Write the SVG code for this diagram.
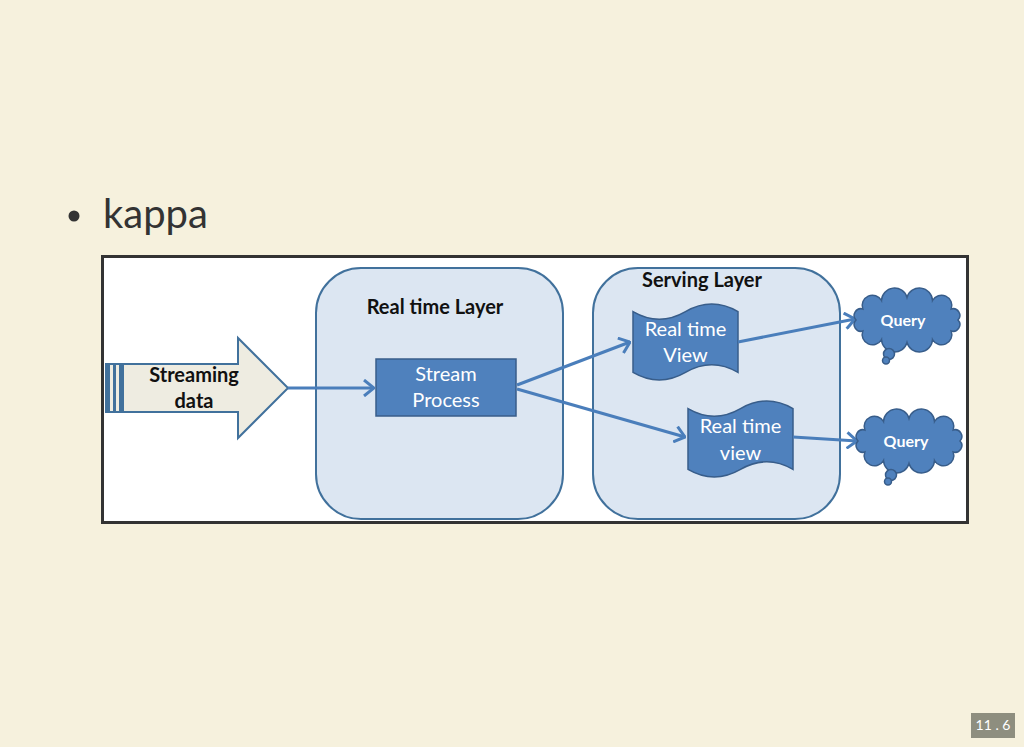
<svg xmlns="http://www.w3.org/2000/svg" width="1024" height="747" viewBox="0 0 1024 747">
<style>
.t{font-family:Lato,"Open Sans","Liberation Sans",sans-serif;text-anchor:middle}
.b{font-weight:bold;fill:#111}
.w{fill:#fff}
.layer{fill:#dce6f2;stroke:#41719c;stroke-width:2}
.shape{fill:#4f81bd;stroke:#385d8a;stroke-width:1.5}
.conn{stroke:#4a7ebb;stroke-width:3;fill:none;marker-end:url(#ah)}
</style>
<defs>
<marker id="ah" markerUnits="userSpaceOnUse" viewBox="0 0 12 18" refX="11" refY="9" markerWidth="12" markerHeight="18" orient="auto">
<path d="M1,1 L11,9 L1,17" fill="none" stroke="#4a7ebb" stroke-width="3"/>
</marker>
<path id="tape" d="M0,7.6 Q26.25,22.8 52.5,7.6 Q78.75,-7.6 105,7.6 L105,68.4 Q78.75,53.2 52.5,68.4 Q26.25,83.6 0,68.4 Z"/>
<g id="cloud">
<path d="M51,0 A6.7,6.7 0 0 1 44.2,11 A10.3,10.3 0 0 1 25.5,19.5 A13,13 0 0 1 0,22.5 A13,13 0 0 1 -25.5,19.5 A10.3,10.3 0 0 1 -44.2,11 A6.7,6.7 0 0 1 -51,0 A6.7,6.7 0 0 1 -44.2,-11 A10.3,10.3 0 0 1 -25.5,-19.5 A13,13 0 0 1 0,-22.5 A13,13 0 0 1 25.5,-19.5 A10.3,10.3 0 0 1 44.2,-11 A6.7,6.7 0 0 1 51,0 Z"/>
<circle cx="-18" cy="34" r="5.5"/>
<circle cx="-21" cy="40.5" r="3.5"/>
</g>
</defs>
<rect width="1024" height="747" fill="#f6f1dd"/>
<g id="title">
<circle cx="74" cy="216" r="5.5" fill="#333"/>
<text x="103" y="228" font-family="Lato,'Open Sans','Liberation Sans',sans-serif" font-size="40" fill="#333">kappa</text>
</g>
<rect x="102.5" y="256.5" width="865" height="266" fill="#fff" stroke="#333" stroke-width="3"/>
<g id="realtime-layer">
<rect class="layer" x="316" y="268" width="247" height="251" rx="45"/>
<text class="t b" x="435" y="314" font-size="20">Real time Layer</text>
</g>
<g id="serving-layer">
<rect class="layer" x="593" y="268" width="247" height="251" rx="45"/>
<text class="t b" x="702" y="287" font-size="20">Serving Layer</text>
</g>
<g id="streaming-data">
<polygon points="122,364 238,364 238,338 288,388 238,438 238,412 122,412" fill="#eeece1" stroke="#41719c" stroke-width="2"/>
<rect x="106" y="364" width="17" height="48" fill="#eeece1" stroke="#41719c" stroke-width="2"/>
<rect x="106" y="364" width="4" height="48" fill="#41719c"/>
<rect x="113" y="364" width="3" height="48" fill="#41719c"/>
<rect x="119" y="364" width="3" height="48" fill="#41719c"/>
<text class="t b" x="194" y="382" font-size="20">Streaming</text>
<text class="t b" x="194" y="408" font-size="20">data</text>
</g>
<g id="stream-process">
<rect class="shape" x="376" y="359" width="140" height="57"/>
<text class="t w" x="446" y="381" font-size="20">Stream</text>
<text class="t w" x="446" y="407" font-size="20">Process</text>
</g>
<g id="realtime-view-1">
<use href="#tape" class="shape" x="633" y="304"/>
<text class="t w" x="685.5" y="336" font-size="20">Real time</text>
<text class="t w" x="685.5" y="362" font-size="20">View</text>
</g>
<g id="realtime-view-2">
<use href="#tape" class="shape" x="688" y="401"/>
<text class="t w" x="740.5" y="433" font-size="20">Real time</text>
<text class="t w" x="740.5" y="460" font-size="20">view</text>
</g>
<g id="connectors">
<line class="conn" x1="288" y1="388" x2="374" y2="388"/>
<line class="conn" x1="517" y1="385" x2="630" y2="342"/>
<line class="conn" x1="517" y1="389" x2="685" y2="437"/>
<line class="conn" x1="738" y1="342" x2="855" y2="319"/>
<line class="conn" x1="793" y1="437" x2="857" y2="441"/>
</g>
<g id="query-1">
<use href="#cloud" class="shape" x="907" y="320"/>
<text class="t w" x="903" y="326" font-size="16" font-weight="bold">Query</text>
</g>
<g id="query-2">
<use href="#cloud" class="shape" x="909" y="441"/>
<text class="t w" x="906" y="447" font-size="16" font-weight="bold">Query</text>
</g>
<g id="page-number">
<rect x="971" y="713" width="44" height="25" fill="#8e8e7f"/>
<text class="t w" x="993" y="730" font-size="14">11 . 6</text>
</g>
</svg>
